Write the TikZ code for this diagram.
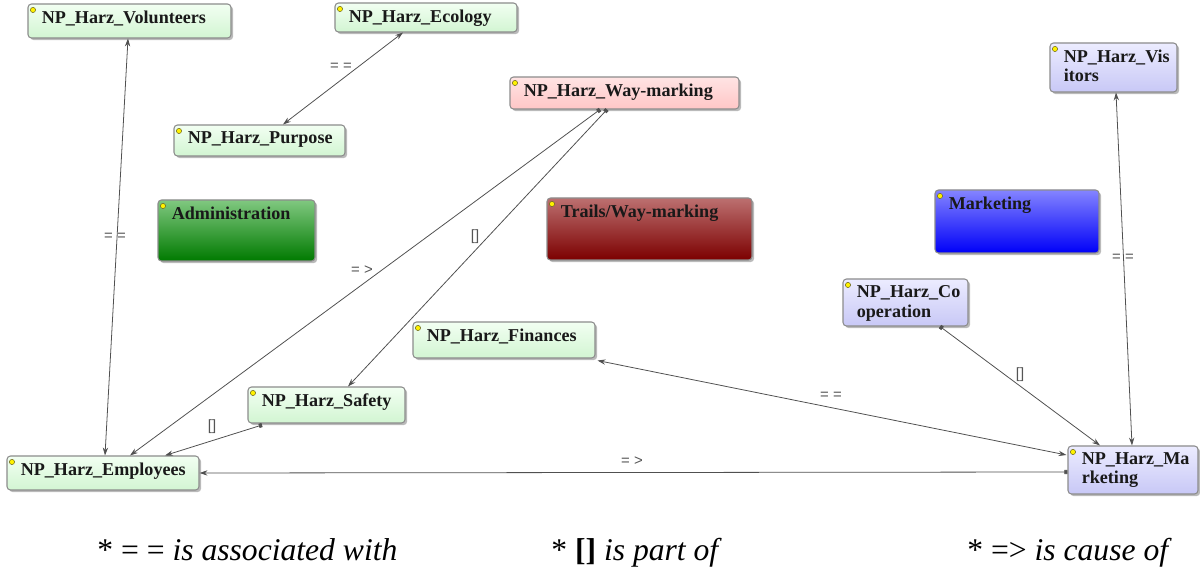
\documentclass[tikz,border=0pt]{standalone}
\usepackage{fontspec}
\setmainfont{Liberation Serif}
\setsansfont{Liberation Sans}
\usetikzlibrary{arrows.meta,shadows,fit,calc}
\definecolor{lgtop}{HTML}{F2FFF2}
\definecolor{lgbot}{HTML}{D2F5D2}
\definecolor{pktop}{HTML}{FFE4E4}
\definecolor{pkbot}{HTML}{FFC6C6}
\definecolor{lvtop}{HTML}{ECECFF}
\definecolor{lvbot}{HTML}{C8C8F6}
\definecolor{grtop}{HTML}{80C880}
\definecolor{grbot}{HTML}{007A00}
\definecolor{rdtop}{HTML}{BC7070}
\definecolor{rdbot}{HTML}{7C0000}
\definecolor{bltop}{HTML}{8484FF}
\definecolor{blbot}{HTML}{0000F8}
\definecolor{iconc}{HTML}{FFF200}
\definecolor{edgec}{HTML}{505050}
\definecolor{elblc}{HTML}{555555}
\tikzset{
  box/.style={inner sep=0pt, rounded corners=2pt, draw=black!45, line width=0.6pt,
    drop shadow={shadow xshift=1.2pt, shadow yshift=-1.2pt, opacity=0.45, fill=black!60}},
  gbox/.style={box, top color=lgtop, bottom color=lgbot},
  pbox/.style={box, top color=pktop, bottom color=pkbot},
  vbox/.style={box, top color=lvtop, bottom color=lvbot},
  adbox/.style={box, top color=grtop, bottom color=grbot},
  trbox/.style={box, top color=rdtop, bottom color=rdbot},
  mkbox/.style={box, top color=bltop, bottom color=blbot},
  lbl/.style={anchor=north west, inner sep=0pt, xshift=0.28cm, yshift=-0.14cm,
    font=\fontsize{10.3}{11}\selectfont\bfseries, align=left, text=black!90},
  elbl/.style={font=\sffamily\fontsize{8.5}{9}\selectfont, text=elblc, inner sep=0pt},
  ln/.style={draw=edgec, line width=0.45pt},
  both/.style={ln, {Stealth[length=4.5pt,width=3pt]}-{Stealth[length=4.5pt,width=3pt]}},
  one/.style={ln, {Square[length=1.8pt,width=2.4pt]}-{Stealth[length=4.5pt,width=3pt]}},
  legend/.style={anchor=base west, inner sep=0pt, font=\fontsize{18}{21}\selectfont}
}
\newcommand\bx[7]{%
  \node[#6, fit={(#2,#3) (#4,#5)}, label={[lbl]north west:#7}] (#1) {};
  \fill[iconc, draw=olive!70!black, line width=0.3pt] ($(#1.north west)+(5.5,6.5)$) circle (2.6);
}
\begin{document}
\begin{tikzpicture}[x=0.02cm, y=-0.02cm]
\useasboundingbox (0,0) rectangle (1200,570);
% boxes
\bx{vol}{28}{4}{231}{38}{gbox}{NP\_Harz\_Volunteers}
\bx{eco}{335}{3}{517}{32}{gbox}{NP\_Harz\_Ecology}
\bx{pur}{174}{125}{345}{156}{gbox}{NP\_Harz\_Purpose}
\bx{way}{510}{77}{739}{109}{pbox}{NP\_Harz\_Way-marking}
\bx{vis}{1050}{43}{1177}{92}{vbox}{NP\_Harz\_Vis\\itors}
\bx{adm}{158}{200}{315}{261}{adbox}{Administration}
\bx{trl}{547}{198}{752}{260}{trbox}{Trails/Way-marking}
\bx{mkg}{935}{190}{1099}{253}{mkbox}{Marketing}
\bx{coo}{843}{279}{968}{326}{vbox}{NP\_Harz\_Co\\operation}
\bx{fin}{413}{322}{595}{358}{gbox}{NP\_Harz\_Finances}
\bx{saf}{248}{387}{405}{423}{gbox}{NP\_Harz\_Safety}
\bx{emp}{7}{456}{199}{490}{gbox}{NP\_Harz\_Employees}
\bx{mar}{1068}{446}{1198}{494}{vbox}{NP\_Harz\_Ma\\rketing}
% connectors
\draw[both] ($(vol.south)+(-1.5,0)$) -- ($(emp.north)+(2,0)$);
\draw[both] ($(eco.south)+(-23,0)$) -- ($(pur.north)+(23.5,0)$);
\draw[one] ($(way.south)+(-24.5,0)$) -- ($(emp.north)+(27,0)$);
\draw[one] ($(way.south)+(-17.5,0)$) -- ($(saf.north)+(21.5,0)$);
\draw[one] ($(saf.south)+(-64.5,1.5)$) -- ($(emp.north)+(62,0)$);
\draw[both] ($(fin.south east)+(2,2)$) -- ($(mar.west)+(-1,-15)$);
\draw[one] ($(coo.south)+(34.5,0)$) -- ($(mar.north)+(-33,0)$);
\draw[both] ($(vis.south)+(2.5,0)$) -- ($(mar.north)+(-1,0)$);
\draw[one] ($(mar.west)+(0,2)$) -- (emp.east);
% connector labels
\node[elbl] (l1) at (115,237) {= =};
\node[elbl] (l2) at (341,67) {= =};
\node[elbl] (l3) at (362,270) {= >};
\node[elbl] (l4) at (475,237) {[]};
\node[elbl] (l5) at (212,427) {[]};
\node[elbl] (l6) at (831,396) {= =};
\node[elbl] (l7) at (1020,375) {[]};
\node[elbl] (l8) at (1123,258) {= =};
\node[elbl] (l9) at (632,461) {= >};
% legend
\node[legend] (g1) at (97,561) {* = = \textit{is associated with}};
\node[legend] (g2) at (551,561) {* \textbf{[]} \textit{is part of}};
\node[legend] (g3) at (967,561) {* => \textit{is cause of}};
\end{tikzpicture}
\end{document}
